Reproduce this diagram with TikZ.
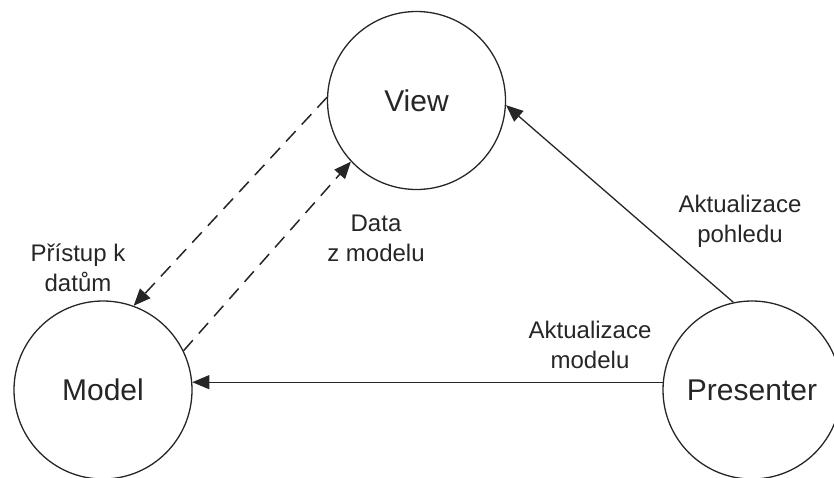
\documentclass[tikz,border=0pt]{standalone}
\usepackage{fontspec}
\setmainfont{Liberation Sans}
\usetikzlibrary{arrows.meta}

\begin{document}
\begin{tikzpicture}[x=0.5pt,y=-0.5pt,
    part/.style={draw=black!85,circle,minimum size=89pt,inner sep=0pt,line width=0.65pt,
      text=black!85,font=\fontsize{15}{18}\selectfont},
    note/.style={align=center,text=black!85,font=\fontsize{12}{15}\selectfont},
    flow/.style={-{Triangle[length=8.5pt,width=7pt]},draw=black!85,line width=0.65pt},
    dataflow/.style={flow,line width=0.75pt,dash pattern=on 7pt off 4.5pt}]
    \useasboundingbox (0,0) rectangle (834,477);
    % the three parts
    \node[part] (view) at (416.5,100.5) {View};
    \node[part] (model) at (103,390) {Model};
    \node[part] (presenter) at (752,390) {Presenter};
    % labels of the connectors
    \node[note] (access) at (78,268) {Přístup k\\datům};
    \node[note] (data) at (376,238) {Data\\z modelu};
    \node[note] (updview) at (740,221) {Aktualizace\\pohledu};
    \node[note] (updmodel) at (590,345) {Aktualizace\\modelu};
    % connectors
    \draw[dataflow] (view.178) -- (model.70);
    \draw[dataflow] (model.26) -- (view.223);
    \draw[flow] (presenter.102) -- (view.-3);
    \draw[flow] (presenter.175) -- (model.5);
\end{tikzpicture}
\end{document}
